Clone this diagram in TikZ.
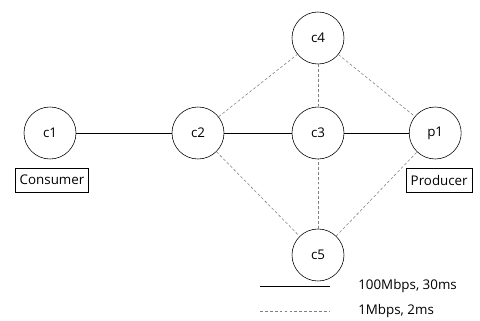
\documentclass[tikz,border=0pt]{standalone}
\usepackage{fontspec}
\setmainfont{Open Sans}
\usetikzlibrary{positioning}

\begin{document}
\begin{tikzpicture}[node distance = 3cm, on grid, font=\fontsize{9.5}{11}\selectfont,
    router/.style = {draw, circle, minimum size = 1.3cm, inner sep = 0pt},
    tag/.style = {draw, inner sep = 3pt, minimum height = 0.62cm},
    fast/.style = {draw, thin},
    slow/.style = {draw, thin, dash pattern = on 2pt off 1.5pt, gray}]
  \useasboundingbox (0,0) rectangle (12,-8.025);
  \node[router] (c1) at (1.25,-3.325) {c1};
  \node[router] (c2) [right=3.7cm of c1] {c2};
  \node[router] (c3) [right=of c2] {c3};
  \node[router] (p1) [right=2.93cm of c3] {p1};
  \node[router] (c4) [above=2.375cm of c3] {c4};
  \node[router] (c5) [below=3.05cm of c3] {c5};
  \node[tag] (cons) [below=1.18cm of c1, xshift=0.05cm] {Consumer};
  \node[tag] (prod) [below=1.18cm of p1, xshift=0.1cm] {Producer};
  \path[fast]
    (c1) edge (c2)
    (c2) edge (c3)
    (c3) edge (p1);
  \path[slow]
    (c2) edge (c4)
         edge (c5)
    (c4) edge (c3)
         edge (p1)
    (c5) edge (c3)
         edge (p1);
  % legend
  \coordinate (l1) at (6.5,-7.15);
  \coordinate (l2) at (8.25,-7.15);
  \coordinate (l3) at (6.5,-7.77);
  \coordinate (l4) at (8.25,-7.77);
  \draw[fast] (l1) -- (l2);
  \draw[slow] (l3) -- (l4);
  \node[anchor=west, inner sep=0pt] (fastlbl) at (8.95,-7.15) {100Mbps, 30ms};
  \node[anchor=west, inner sep=0pt] (slowlbl) at (8.95,-7.77) {1Mbps, 2ms};
\end{tikzpicture}
\end{document}
